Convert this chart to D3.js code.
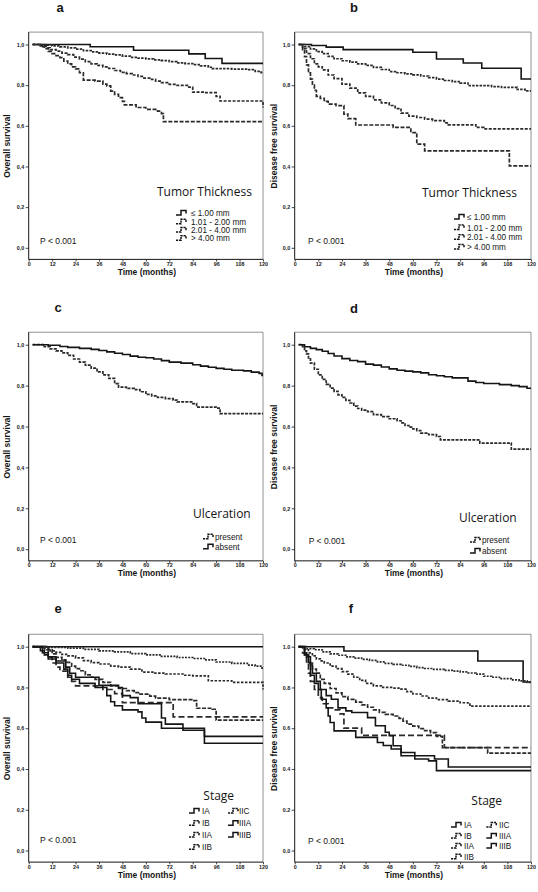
<!DOCTYPE html>
<html><head><meta charset="utf-8">
<script src="https://cdn.jsdelivr.net/npm/d3@7"></script>
<style>body{margin:0;background:#fff}svg{display:block}</style>
</head><body><svg id="c" width="538" height="892"></svg>
<script>
// ---------- tick labels ----------
const monthTicks = [0,12,24,36,48,60,72,84,96,108,120];
const survTicks = [0,0.2,0.4,0.6,0.8,1.0];

// ---------- panel a: overall survival by tumor thickness ----------
const thicknessLabels = ["≤ 1.00 mm","1.01 - 2.00 mm","2.01 - 4.00 mm","> 4.00 mm"];
const aThick1 = [[2,1],[31.5,0.989],[53.7,0.972],[82,0.954],[90.4,0.931],[99,0.907],[120,0.907]];
const aThick2 = [[2,1],[8,0.997],[12,0.993],[16,0.988],[20,0.983],[24,0.977],[28,0.97],[32,0.964],[36,0.958],[40,0.953],[44,0.949],[48,0.943],[52,0.937],[56,0.933],[60,0.929],[64,0.924],[68,0.921],[72,0.916],[76,0.91],[80,0.906],[84,0.901],[88,0.895],[92,0.888],[94,0.881],[104,0.879],[112,0.876],[116,0.868],[119,0.862],[120,0.862]];
const aThick3 = [[2,1],[6,0.993],[9,0.984],[11,0.975],[14,0.967],[17,0.958],[20,0.95],[23,0.938],[26,0.928],[29,0.916],[32,0.905],[35,0.897],[38,0.89],[41,0.882],[44,0.872],[47,0.863],[50,0.857],[53,0.85],[56,0.843],[59,0.835],[62,0.828],[65,0.82],[68,0.812],[72,0.804],[76,0.799],[82,0.79],[84,0.766],[90,0.763],[96,0.745],[98,0.722],[119.5,0.722],[120,0.69]];
const aThick4 = [[2,1],[6,0.99],[8,0.98],[10,0.966],[12,0.955],[14,0.945],[16,0.935],[18,0.918],[20,0.905],[22,0.89],[24,0.88],[26,0.861],[28,0.825],[34,0.82],[38,0.805],[40,0.796],[42,0.771],[44,0.755],[46,0.739],[48,0.72],[49,0.703],[55,0.69],[60,0.681],[66,0.672],[68,0.66],[69,0.621],[120,0.621]];

// ---------- panel b: disease free survival by tumor thickness ----------
const bThick1 = [[2,1],[8.5,0.995],[16,0.987],[24.6,0.975],[60,0.962],[72,0.929],[85.6,0.909],[95,0.883],[115,0.83],[120,0.83]];
const bThick2 = [[2,1],[5,0.99],[8,0.978],[11,0.965],[14,0.955],[17,0.942],[20,0.93],[24,0.92],[28,0.913],[32,0.905],[36,0.897],[40,0.887],[44,0.877],[48,0.867],[52,0.861],[56,0.856],[60,0.851],[64,0.845],[68,0.837],[72,0.83],[76,0.823],[80,0.817],[84,0.81],[88,0.798],[100,0.793],[105,0.789],[113,0.779],[117,0.772],[120,0.772]];
const bThick3 = [[2,1],[4,0.98],[6,0.955],[8,0.93],[10,0.905],[12,0.89],[14,0.875],[17,0.85],[20,0.832],[24,0.805],[28,0.785],[32,0.762],[36,0.745],[40,0.728],[44,0.713],[48,0.7],[51,0.685],[54,0.662],[58,0.648],[62,0.641],[66,0.633],[70,0.626],[76,0.614],[78,0.605],[92,0.592],[96,0.585],[120,0.585]];
const bThick4 = [[2,1],[4,0.975],[5,0.94],[6,0.9],[7,0.86],[8,0.83],[9,0.8],[10,0.775],[11,0.745],[13,0.735],[15,0.72],[17,0.707],[21,0.699],[25,0.658],[27,0.635],[31,0.604],[50,0.592],[59,0.567],[62,0.51],[66,0.477],[109,0.403],[120,0.403]];

// ---------- panels c, d: ulceration ----------
const ulcerLabels = ["present","absent"];
const cPresent = [[2,1],[8,0.99],[11,0.98],[14,0.97],[17,0.96],[20,0.948],[23,0.93],[26,0.915],[29,0.9],[32,0.885],[35,0.867],[38,0.852],[41,0.835],[44,0.81],[46,0.793],[50,0.786],[54,0.78],[57,0.77],[60,0.757],[63,0.75],[66,0.742],[70,0.736],[74,0.729],[76,0.72],[84,0.712],[86,0.695],[96,0.69],[98,0.663],[120,0.663]];
const cAbsent = [[2,1],[10,0.997],[16,0.991],[20,0.987],[26,0.982],[32,0.977],[36,0.972],[40,0.965],[44,0.958],[48,0.952],[52,0.944],[56,0.939],[60,0.936],[64,0.93],[68,0.922],[72,0.915],[78,0.91],[84,0.902],[88,0.895],[92,0.89],[96,0.884],[100,0.88],[104,0.875],[110,0.872],[114,0.866],[118,0.86],[119.5,0.85],[120,0.85]];
const dPresent = [[2,1],[4,0.99],[5,0.97],[6,0.955],[7,0.935],[8,0.91],[10,0.88],[12,0.852],[14,0.83],[16,0.806],[18,0.788],[20,0.772],[22,0.755],[24,0.742],[26,0.728],[28,0.715],[30,0.7],[32,0.688],[34,0.68],[37,0.673],[40,0.658],[44,0.648],[48,0.638],[52,0.628],[54,0.618],[56,0.605],[58,0.597],[60,0.588],[62,0.58],[64,0.568],[68,0.56],[72,0.551],[74,0.535],[94,0.519],[110,0.489],[120,0.489]];
const dAbsent = [[2,1],[5,0.99],[8,0.982],[11,0.976],[14,0.968],[17,0.957],[20,0.945],[24,0.932],[28,0.923],[32,0.917],[36,0.905],[40,0.9],[44,0.891],[48,0.882],[52,0.875],[56,0.871],[60,0.867],[64,0.862],[68,0.853],[72,0.848],[76,0.843],[80,0.838],[88,0.822],[92,0.815],[96,0.81],[104,0.805],[110,0.8],[114,0.795],[118,0.787],[120,0.787]];

// ---------- panels e, f: stage ----------
const stageLabels = ["IA","IB","IIA","IIB","IIC","IIIA","IIIB"];
const eIA = [[2,1],[120,1]];
const eIB = [[2,1],[10,0.997],[20,0.993],[28,0.987],[36,0.98],[44,0.975],[52,0.966],[60,0.96],[68,0.953],[76,0.947],[84,0.942],[90,0.935],[96,0.925],[104,0.918],[112,0.91],[116,0.905],[119.5,0.89],[120,0.89]];
const eIIA = [[2,1],[8,0.993],[11,0.98],[14,0.972],[17,0.962],[20,0.955],[24,0.945],[28,0.932],[32,0.922],[36,0.915],[42,0.905],[46,0.9],[52,0.89],[58,0.875],[64,0.87],[70,0.866],[80,0.86],[84,0.857],[92,0.833],[104,0.825],[119.5,0.825],[120,0.79]];
const eIIB = [[2,1],[9,0.985],[12,0.965],[14,0.948],[17,0.935],[19,0.923],[22,0.905],[24,0.892],[26,0.882],[29,0.862],[32,0.85],[34,0.84],[38,0.825],[42,0.808],[46,0.795],[50,0.784],[54,0.775],[57,0.767],[62,0.757],[65,0.748],[72,0.74],[84,0.735],[86,0.698],[94,0.693],[96,0.64],[120,0.64]];
const eIIC = [[2,1],[8,0.985],[10,0.95],[12,0.92],[14,0.9],[16,0.88],[20,0.85],[22,0.83],[24,0.808],[32,0.808],[38,0.79],[44,0.77],[48,0.726],[73,0.726],[74,0.656],[120,0.656]];
const eIIIA = [[2,1],[7,0.97],[10,0.95],[14,0.93],[19,0.9],[21,0.87],[24,0.85],[30,0.85],[36,0.81],[46,0.8],[48,0.76],[52,0.75],[56,0.72],[64,0.72],[68,0.65],[70,0.62],[79,0.6],[90,0.56],[120,0.56]];
const eIIIB = [[2,1],[6,0.98],[8,0.96],[10,0.94],[14,0.92],[18,0.89],[20,0.86],[22,0.84],[26,0.82],[34,0.8],[40,0.76],[42,0.73],[44,0.71],[48,0.69],[56,0.68],[58,0.65],[60,0.63],[68,0.6],[79,0.59],[90,0.526],[120,0.526]];
const fIA = [[2,1],[25,0.979],[93,0.93],[116,0.827],[120,0.827]];
const fIB = [[2,1],[6,0.99],[10,0.985],[14,0.975],[18,0.965],[22,0.958],[26,0.95],[30,0.944],[34,0.938],[38,0.933],[42,0.926],[46,0.918],[50,0.913],[54,0.909],[58,0.903],[62,0.897],[66,0.893],[70,0.889],[76,0.884],[80,0.88],[84,0.876],[88,0.871],[92,0.865],[96,0.855],[100,0.85],[104,0.843],[110,0.837],[114,0.832],[118,0.825],[120,0.822]];
const fIIA = [[2,1],[5,0.985],[7,0.97],[9,0.955],[11,0.94],[13,0.93],[15,0.92],[18,0.905],[21,0.892],[24,0.878],[27,0.865],[30,0.85],[33,0.835],[36,0.82],[40,0.808],[44,0.8],[50,0.797],[54,0.792],[57,0.78],[60,0.768],[64,0.758],[68,0.748],[72,0.74],[78,0.733],[84,0.725],[88,0.718],[89,0.708],[120,0.708]];
const fIIB = [[2,1],[5,0.96],[7,0.92],[9,0.89],[11,0.87],[13,0.84],[15,0.82],[18,0.795],[21,0.773],[24,0.755],[27,0.742],[31,0.728],[34,0.715],[37,0.703],[40,0.69],[43,0.678],[46,0.668],[50,0.66],[53,0.648],[55,0.635],[57,0.62],[60,0.61],[63,0.598],[66,0.588],[69,0.578],[72,0.56],[75,0.505],[97,0.505],[98,0.478],[120,0.478]];
const fIIC = [[2,1],[4,0.97],[6,0.92],[7,0.87],[8,0.83],[10,0.79],[12,0.75],[14,0.72],[17,0.7],[20,0.69],[23,0.67],[25,0.6],[34,0.565],[75,0.565],[76,0.505],[120,0.505]];
const fIIIA = [[2,1],[5,0.96],[7,0.922],[8,0.86],[10,0.82],[12,0.79],[13.5,0.742],[16,0.7],[17,0.66],[18,0.628],[20,0.587],[30,0.587],[31,0.555],[40,0.555],[42,0.53],[45,0.515],[49,0.498],[54,0.465],[61,0.449],[68,0.44],[72,0.392],[120,0.392]];
const fIIIB = [[2,1],[5,0.97],[6,0.95],[8,0.91],[9,0.87],[11,0.83],[13,0.79],[16,0.76],[18.6,0.742],[22,0.7],[26,0.685],[29,0.677],[37,0.652],[41,0.612],[46,0.58],[48,0.563],[50,0.514],[54,0.481],[61,0.465],[71,0.449],[78,0.41],[120,0.41]];

// ---------- styles ----------
const thickDash = ["", "2.5,1.2", "3,1.5", "4,1.6"];
const ulcerDash = ["3,1.2", ""];
const stageDash = ["", "2,1.2", "2.5,1.5", "4,1.5", "6,3", "", ""];

const svg = d3.select("#c");
const FONT = "'Liberation Sans', Arial, sans-serif";
const INK = "#151515";

function panel(p) {
  const xs = d3.scaleLinear().domain([0,120]).range([p.x0, p.x1]);
  const ys = d3.scaleLinear().domain([0,1]).range([p.yZero, p.yOne]);
  const top = ys(1.061), bot = ys(-0.057);
  const g = svg.append("g");
  // frame
  g.append("line").attr("x1",p.x0).attr("x2",p.x1).attr("y1",top).attr("y2",top).attr("stroke","#777").attr("stroke-width",0.8);
  g.append("line").attr("x1",p.x1).attr("x2",p.x1).attr("y1",top).attr("y2",bot).attr("stroke","#777").attr("stroke-width",0.8);
  g.append("line").attr("x1",p.x0).attr("x2",p.x0).attr("y1",top).attr("y2",bot).attr("stroke",INK).attr("stroke-width",1);
  g.append("line").attr("x1",p.x0).attr("x2",p.x1).attr("y1",bot).attr("y2",bot).attr("stroke",INK).attr("stroke-width",1);
  // axes
  const ya = g.append("g").attr("transform",`translate(${p.x0},0)`)
    .call(d3.axisLeft(ys).tickValues(survTicks).tickSize(3).tickPadding(1.5)
      .tickFormat(d => d.toFixed(1).replace(".", p.dec)));
  const xa = g.append("g").attr("transform",`translate(0,${bot})`)
    .call(d3.axisBottom(xs).tickValues(monthTicks).tickSize(2.2).tickPadding(0.6));
  [ya, xa].forEach(a => {
    a.select(".domain").remove();
    a.selectAll("line").attr("stroke",INK).attr("stroke-width",0.8);
    a.selectAll("text").attr("font-family",FONT).attr("font-size",5.4).attr("font-weight","bold").attr("fill","#222");
  });
  // labels
  g.append("text").attr("x",(p.x0+p.x1)/2+1).attr("y",bot+15.5).attr("text-anchor","middle")
    .attr("font-family",FONT).attr("font-size",8.5).attr("font-weight","bold").attr("fill",INK).text("Time (months)");
  g.append("text").attr("transform",`translate(${p.ylabX},${(ys(0)+ys(1))/2}) rotate(-90)`).attr("text-anchor","middle")
    .attr("font-family",FONT).attr("font-size",8.5).attr("font-weight","bold").attr("fill",INK).text(p.ylabel);
  g.append("text").attr("x",p.letterX).attr("y",p.letterY).attr("text-anchor","middle")
    .attr("font-family",FONT).attr("font-size",13).attr("font-weight","bold").attr("fill",INK).text(p.letter);
  g.append("text").attr("x",p.pX).attr("y",p.pY+3).attr("font-family",FONT).attr("font-size",8.5).attr("fill",INK).text("P < 0.001");
  g.append("text").attr("x",p.titleX).attr("y",p.titleY).attr("font-family","'Open Sans', sans-serif").attr("font-size",12).attr("fill",INK).text(p.title);
  // curves
  const line = d3.line().x(d => xs(d[0])).y(d => ys(d[1])).curve(d3.curveStepAfter);
  p.series.forEach((s,i) => {
    g.append("path").attr("d",line(s)).attr("fill","none")
      .attr("stroke", p.dash[i] ? "#2a2a2a" : INK)
      .attr("stroke-width", p.dash[i] ? 1.7 : 1.6)
      .attr("stroke-dasharray", p.dash[i] || null);
  });
  // legend
  p.labels.forEach((lab,i) => {
    const L = p.leg[i];
    g.append("path").attr("d",`M${L[0]-1},${L[2]+2} h5 v-4.5 h5 v3`).attr("fill","none")
      .attr("stroke",INK).attr("stroke-width",1.5).attr("stroke-dasharray",p.dash[i] ? "2.2,0.8" : null);
    g.append("text").attr("x",L[1]).attr("y",L[2]+3).attr("font-family",FONT).attr("font-size",8.2).attr("fill",INK).text(lab);
  });
}

const L1 = {x0:28.7, x1:263}, R1 = {x0:294.7, x1:531};
panel({...L1, yOne:44.5, yZero:247.8, dec:",", ylabel:"Overall survival", ylabX:10, letter:"a", letterX:60, letterY:11.5,
  pX:40, pY:240.7, title:"Tumor Thickness", titleX:157, titleY:196,
  series:[aThick1,aThick2,aThick3,aThick4], dash:thickDash, labels:thicknessLabels,
  leg:[[177,191,213],[177,191,221.7],[177,191,230],[177,191,238.3]]});
panel({...R1, yOne:44.5, yZero:247.8, dec:",", ylabel:"Disease free survival", ylabX:277, letter:"b", letterX:354, letterY:12,
  pX:308, pY:240.7, title:"Tumor Thickness", titleX:422, titleY:197,
  series:[bThick1,bThick2,bThick3,bThick4], dash:thickDash, labels:thicknessLabels,
  leg:[[455,467,217],[455,467,227.5],[455,467,237.3],[455,467,247]]});
panel({...L1, yOne:344.7, yZero:549.2, dec:",", ylabel:"Overall survival", ylabX:10, letter:"c", letterX:58, letterY:312,
  pX:40, pY:540, title:"Ulceration", titleX:193, titleY:518.3,
  series:[cPresent,cAbsent], dash:ulcerDash, labels:ulcerLabels,
  leg:[[204,215,536.7],[204,215,546.7]]});
panel({...R1, yOne:344.7, yZero:549.2, dec:",", ylabel:"Disease free survival", ylabX:277, letter:"d", letterX:354, letterY:312.5,
  pX:308.7, pY:540.7, title:"Ulceration", titleX:459, titleY:522.3,
  series:[dPresent,dAbsent], dash:ulcerDash, labels:ulcerLabels,
  leg:[[471,482,540],[471,482,551]]});
panel({...L1, yOne:646.7, yZero:850.5, dec:",", ylabel:"Overall survival", ylabX:10, letter:"e", letterX:58, letterY:613,
  pX:40, pY:840, title:"Stage", titleX:203.3, titleY:800,
  series:[eIA,eIB,eIIA,eIIB,eIIC,eIIIA,eIIIB], dash:stageDash, labels:stageLabels,
  leg:[[190,202,811],[190,202,823.3],[190,202,835],[190,202,847.3],[229,239,811],[229,239,823.3],[229,239,835]]});
panel({...R1, yOne:646.7, yZero:850.5, dec:".", ylabel:"Disease free survival", ylabX:277, letter:"f", letterX:351, letterY:613,
  pX:308, pY:840.7, title:"Stage", titleX:471.3, titleY:805,
  series:[fIA,fIB,fIIA,fIIB,fIIC,fIIIA,fIIIB], dash:stageDash, labels:stageLabels,
  leg:[[452,464,825],[452,464,836],[452,464,846],[452,464,856.7],[487.3,499,825],[487.3,499,836],[487.3,499,846]]});
</script></body></html>
